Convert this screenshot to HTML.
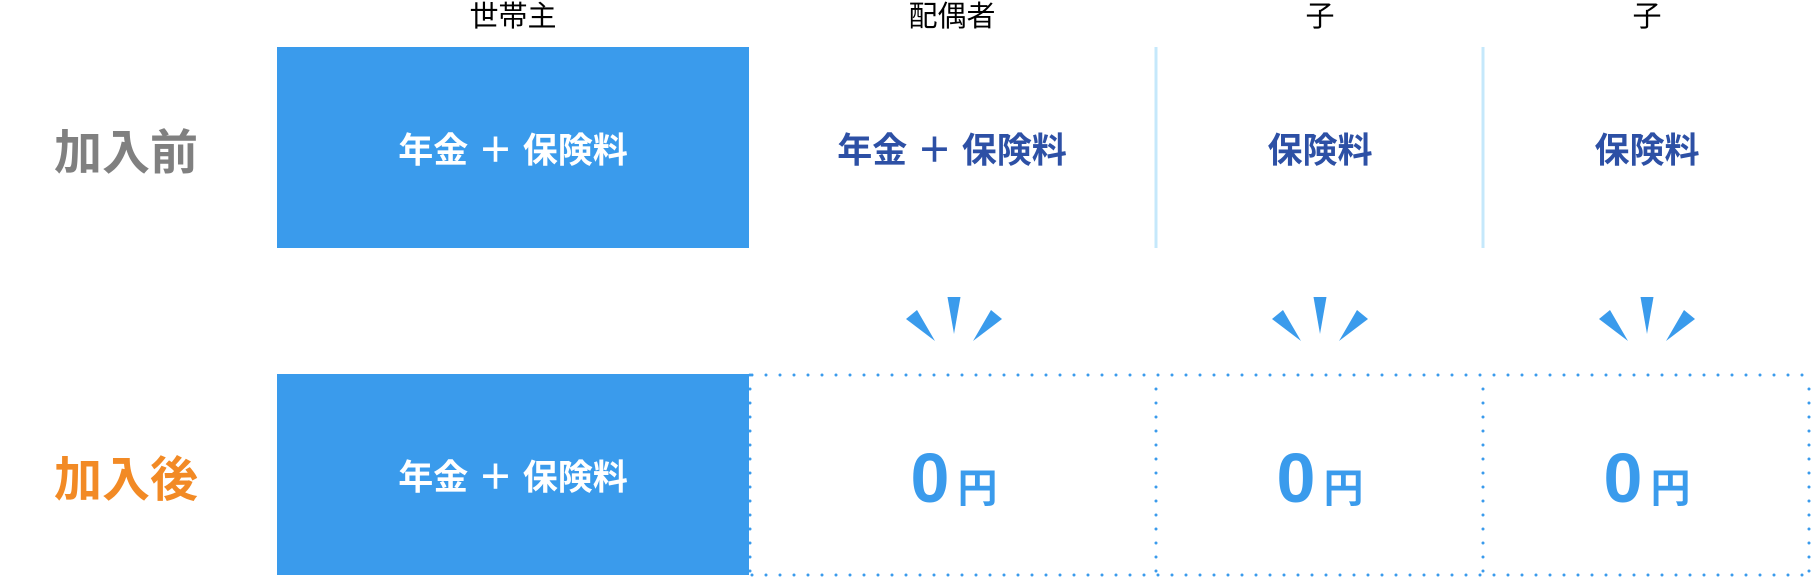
<!DOCTYPE html>
<html><head><meta charset="utf-8"><style>
html,body{margin:0;padding:0;background:#fff;}
body{width:1812px;height:578px;position:relative;overflow:hidden;font-family:"Liberation Sans","Noto Sans CJK JP",sans-serif;}
.t{position:absolute;transform:translate(-50%,-50%);white-space:nowrap;}
.h{font-size:29px;color:#000;top:14px;}
.lab{font-size:48px;font-weight:bold;left:126px;}
.box{position:absolute;left:277px;width:472px;height:201px;background:#3a9bec;}
.bt{font-size:35px;font-weight:bold;}
.z{font-weight:bold;color:#3a9bec;top:478px;}
.z b{font-size:70px;}
.z span{font-size:40px;margin-left:8px;}
</style></head><body>
<div class="t h" style="left:513px">世帯主</div>
<div class="t h" style="left:952px">配偶者</div>
<div class="t h" style="left:1320px">子</div>
<div class="t h" style="left:1647px">子</div>
<div class="t lab" style="top:148px;color:#808080">加入前</div>
<div class="t lab" style="top:475px;color:#f28a25">加入後</div>
<div class="box" style="top:47px"></div>
<div class="box" style="top:374px"></div>
<svg width="1812" height="578" style="position:absolute;left:0;top:0">
<g stroke="#c5e8fb" stroke-width="3"><line x1="1156" y1="47" x2="1156" y2="248"/><line x1="1483" y1="47" x2="1483" y2="248"/></g>
<g stroke="#3a9bec" stroke-width="3" stroke-linecap="round" stroke-dasharray="0 14">
<line x1="752" y1="375" x2="1810" y2="375"/><line x1="752" y1="575" x2="1810" y2="575"/>
<line x1="750" y1="375" x2="750" y2="575"/><line x1="1156" y1="389" x2="1156" y2="575"/>
<line x1="1483" y1="389" x2="1483" y2="575"/><line x1="1809" y1="389" x2="1809" y2="575"/>
</g>
<g fill="#3a9bec">
<g transform="translate(954,0)"><polygon points="-6.5,297 6.5,297 0,334"/><polygon points="-48,319 -37,310 -19,341"/><polygon points="48,319 37,310 19,341"/></g>
<g transform="translate(1320,0)"><polygon points="-6.5,297 6.5,297 0,334"/><polygon points="-48,319 -37,310 -19,341"/><polygon points="48,319 37,310 19,341"/></g>
<g transform="translate(1647,0)"><polygon points="-6.5,297 6.5,297 0,334"/><polygon points="-48,319 -37,310 -19,341"/><polygon points="48,319 37,310 19,341"/></g>
</g>
</svg>
<div class="t bt" style="left:513px;top:148px;color:#fff">年金 ＋ 保険料</div>
<div class="t bt" style="left:513px;top:475px;color:#fff">年金 ＋ 保険料</div>
<div class="t bt" style="left:952px;top:148px;color:#2d50a5">年金 ＋ 保険料</div>
<div class="t bt" style="left:1320px;top:148px;color:#2d50a5">保険料</div>
<div class="t bt" style="left:1647px;top:148px;color:#2d50a5">保険料</div>
<div class="t z" style="left:954px"><b>0</b><span>円</span></div>
<div class="t z" style="left:1320px"><b>0</b><span>円</span></div>
<div class="t z" style="left:1647px"><b>0</b><span>円</span></div>
</body></html>
